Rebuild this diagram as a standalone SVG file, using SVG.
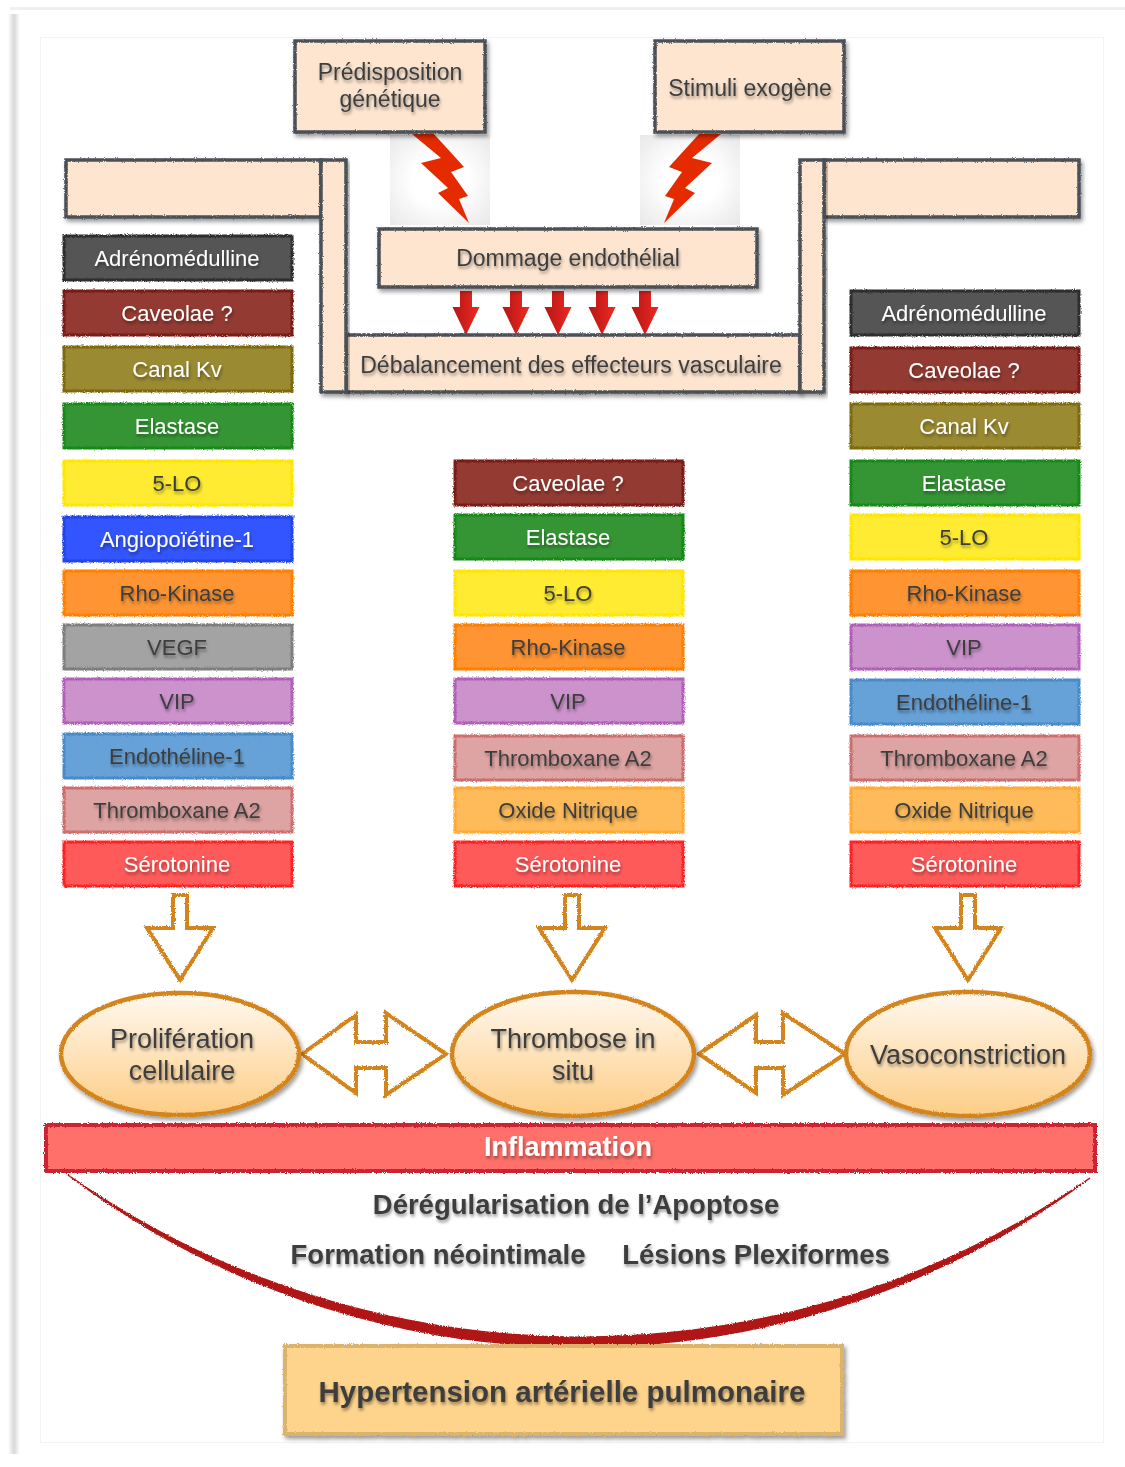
<svg xmlns="http://www.w3.org/2000/svg" width="1125" height="1467" viewBox="0 0 1125 1467">
<defs>
<style>
.t{font-family:"Liberation Sans",Arial,Helvetica,sans-serif;text-anchor:middle;filter:url(#tsh)}
.lbl{font-size:22px}
.w{fill:#ffffff}
.d{fill:#3e3e3e}
.big{font-size:23px;fill:#3e3e3e}
.ell{font-size:27px;fill:#3e3e3e}
.bold{font-weight:bold;font-size:27.5px;fill:#3e3e3e}
.peach{fill:#fee5d0;stroke:#4b4f57;stroke-width:3.5;filter:url(#rsh)}
.cbox{stroke-width:3;filter:url(#rough)}
.hollow{fill:#ffffff;stroke:#d4841a;stroke-width:4;stroke-linejoin:miter;filter:url(#rough)}
.ellipse{fill:url(#eg);stroke:#d4841a;stroke-width:4.5;filter:url(#rsh)}
.redar{fill:url(#rg)}
.bolt{fill:#e52a00}
</style>
<filter id="tsh" x="-10%" y="-30%" width="120%" height="170%">
<feDropShadow dx="1" dy="2.5" stdDeviation="1.6" flood-color="#000" flood-opacity="0.4"/>
</filter>
<filter id="rough" x="-5%" y="-20%" width="110%" height="140%">
<feTurbulence type="fractalNoise" baseFrequency="0.9" numOctaves="2" seed="3" result="n"/>
<feDisplacementMap in="SourceGraphic" in2="n" scale="3" xChannelSelector="R" yChannelSelector="G"/>
</filter>
<filter id="rsh" x="-10%" y="-20%" width="125%" height="150%">
<feTurbulence type="fractalNoise" baseFrequency="0.9" numOctaves="2" seed="5" result="n"/>
<feDisplacementMap in="SourceGraphic" in2="n" scale="2.5" xChannelSelector="R" yChannelSelector="G" result="r"/>
<feDropShadow in="r" dx="2" dy="3" stdDeviation="2.2" flood-color="#000" flood-opacity="0.4"/>
</filter>
<linearGradient id="eg" x1="0" y1="0" x2="0" y2="1">
<stop offset="0" stop-color="#fff8ef"/>
<stop offset="1" stop-color="#fdcd85"/>
</linearGradient>
<linearGradient id="rg" x1="0" y1="0" x2="1" y2="0">
<stop offset="0" stop-color="#b51515"/>
<stop offset="1" stop-color="#ee2a22"/>
</linearGradient>
<radialGradient id="glow" cx="0.5" cy="0.5" r="0.7">
<stop offset="0.4" stop-color="#ffffff"/>
<stop offset="1" stop-color="#e8e8e8"/>
</radialGradient>
<linearGradient id="lstrip" x1="0" y1="0" x2="1" y2="0">
<stop offset="0" stop-color="#ffffff"/>
<stop offset="0.5" stop-color="#d8d8d8"/>
<stop offset="1" stop-color="#ffffff"/>
</linearGradient>
</defs>

<rect x="0" y="0" width="1125" height="1467" fill="#ffffff"/>
<g id="page">
<rect x="8" y="14" width="12" height="1440" fill="url(#lstrip)"/>
<rect x="10" y="7" width="1115" height="3" fill="#f0f0f0"/>
<rect x="40.5" y="37.5" width="1063" height="1405" fill="none" stroke="#f3f3f3" stroke-width="1"/>
</g>

<g id="connectors">
<rect x="390" y="135" width="100" height="90" fill="url(#glow)"/>
<rect x="640" y="135" width="100" height="90" fill="url(#glow)"/>
<polygon class="bolt" points="412,134 434,134 464,167 451,172 468,196 459,199 469,223 438,193 448,188 421,163 441,158"/>
<polygon class="bolt" transform="translate(1133,0) scale(-1,1)" points="412,134 434,134 464,167 451,172 468,196 459,199 469,223 438,193 448,188 421,163 441,158"/>
<g class="redar">
<path d="M460,291 h12 v16 h7.5 l-13.5,28 l-13.5,-28 h7.5 z"/>
<path d="M510,291 h12 v16 h7.5 l-13.5,28 l-13.5,-28 h7.5 z"/>
<path d="M552,291 h12 v16 h7.5 l-13.5,28 l-13.5,-28 h7.5 z"/>
<path d="M596,291 h12 v16 h7.5 l-13.5,28 l-13.5,-28 h7.5 z"/>
<path d="M639,291 h12 v16 h7.5 l-13.5,28 l-13.5,-28 h7.5 z"/>
</g>
<path class="hollow" d="M173,895 L187,895 L187,928 L213,928 L180,980 L147,928 L173,928 Z"/>
<path class="hollow" d="M565,895 L579,895 L579,928 L605,928 L572,980 L539,928 L565,928 Z"/>
<path class="hollow" d="M961,895 L975,895 L975,928 L1001,928 L968,980 L935,928 L961,928 Z"/>
<path class="hollow" d="M302,1054 L356,1015 L356,1042 L386,1042 L386,1013 L446,1054 L386,1095 L386,1068 L356,1068 L356,1093 Z"/>
<path class="hollow" d="M699,1054 L756,1015 L756,1042 L783,1042 L783,1013 L845,1054 L783,1095 L783,1068 L756,1068 L756,1093 Z"/>
<path d="M68,1175 A852,852 0 0 0 1090,1178 A893,893 0 0 1 68,1175 Z" fill="#b01818" stroke="#b01818" stroke-width="1.5" filter="url(#rough)"/>
</g>

<g id="pred">
<rect class="peach" x="295" y="41" width="190" height="91"/>
<text class="t big" x="390" y="80">Prédisposition</text>
<text class="t big" x="390" y="107">génétique</text>
</g>
<g id="stim">
<rect class="peach" x="655" y="41" width="189" height="91"/>
<text class="t big" x="750" y="96">Stimuli exogène</text>
</g>
<g id="frame">
<rect class="peach" x="66" y="160" width="255" height="57"/>
<rect class="peach" x="824" y="160" width="255" height="57"/>
<rect class="peach" x="346" y="335" width="454" height="57"/>
<rect class="peach" x="321" y="160" width="25" height="232"/>
<rect class="peach" x="800" y="160" width="24" height="232"/>
<text class="t big" x="571" y="373">Débalancement des effecteurs vasculaire</text>
</g>
<g id="dommage">
<rect class="peach" x="379" y="229" width="378" height="58"/>
<text class="t big" x="568" y="266">Dommage endothélial</text>
</g>

<g id="left-column">
<g id="l1"><rect class="cbox" x="64" y="236" width="228" height="44" fill="#555555" stroke="#2e2e2e"/><text class="t lbl w" x="177" y="266">Adrénomédulline</text></g>
<g id="l2"><rect class="cbox" x="64" y="291" width="228" height="44" fill="#933a33" stroke="#7a1a12"/><text class="t lbl w" x="177" y="321">Caveolae ?</text></g>
<g id="l3"><rect class="cbox" x="64" y="347" width="228" height="44" fill="#9a8a33" stroke="#7c6a10"/><text class="t lbl w" x="177" y="377">Canal Kv</text></g>
<g id="l4"><rect class="cbox" x="64" y="404" width="228" height="44" fill="#359535" stroke="#188a18"/><text class="t lbl w" x="177" y="434">Elastase</text></g>
<g id="l5"><rect class="cbox" x="64" y="461" width="228" height="44" fill="#ffec33" stroke="#ffe600"/><text class="t lbl d" x="177" y="491">5-LO</text></g>
<g id="l6"><rect class="cbox" x="64" y="517" width="228" height="44" fill="#3355ff" stroke="#2244e8"/><text class="t lbl w" x="177" y="547">Angiopoïétine-1</text></g>
<g id="l7"><rect class="cbox" x="64" y="571" width="228" height="44" fill="#ff9433" stroke="#ff7f00"/><text class="t lbl d" x="177" y="601">Rho-Kinase</text></g>
<g id="l8"><rect class="cbox" x="64" y="625" width="228" height="44" fill="#a3a3a3" stroke="#7e7e7e"/><text class="t lbl d" x="177" y="655">VEGF</text></g>
<g id="l9"><rect class="cbox" x="64" y="679" width="228" height="44" fill="#cc92cc" stroke="#b060b8"/><text class="t lbl d" x="177" y="709">VIP</text></g>
<g id="l10"><rect class="cbox" x="64" y="734" width="228" height="44" fill="#66a2d8" stroke="#4a8ac8"/><text class="t lbl d" x="177" y="764">Endothéline-1</text></g>
<g id="l11"><rect class="cbox" x="64" y="788" width="228" height="44" fill="#dea3a3" stroke="#cc6e6e"/><text class="t lbl d" x="177" y="818">Thromboxane A2</text></g>
<g id="l12"><rect class="cbox" x="64" y="842" width="228" height="44" fill="#ff5a5a" stroke="#ff2020"/><text class="t lbl w" x="177" y="872">Sérotonine</text></g>
</g>

<g id="middle-column">
<g id="m1"><rect class="cbox" x="455" y="461" width="228" height="44" fill="#933a33" stroke="#7a1a12"/><text class="t lbl w" x="568" y="491">Caveolae ?</text></g>
<g id="m2"><rect class="cbox" x="455" y="515" width="228" height="44" fill="#359535" stroke="#188a18"/><text class="t lbl w" x="568" y="545">Elastase</text></g>
<g id="m3"><rect class="cbox" x="455" y="571" width="228" height="44" fill="#ffec33" stroke="#ffe600"/><text class="t lbl d" x="568" y="601">5-LO</text></g>
<g id="m4"><rect class="cbox" x="455" y="625" width="228" height="44" fill="#ff9433" stroke="#ff7f00"/><text class="t lbl d" x="568" y="655">Rho-Kinase</text></g>
<g id="m5"><rect class="cbox" x="455" y="679" width="228" height="44" fill="#cc92cc" stroke="#b060b8"/><text class="t lbl d" x="568" y="709">VIP</text></g>
<g id="m6"><rect class="cbox" x="455" y="736" width="228" height="44" fill="#dea3a3" stroke="#cc6e6e"/><text class="t lbl d" x="568" y="766">Thromboxane A2</text></g>
<g id="m7"><rect class="cbox" x="455" y="788" width="228" height="44" fill="#ffbb5a" stroke="#ffa830"/><text class="t lbl d" x="568" y="818">Oxide Nitrique</text></g>
<g id="m8"><rect class="cbox" x="455" y="842" width="228" height="44" fill="#ff5a5a" stroke="#ff2020"/><text class="t lbl w" x="568" y="872">Sérotonine</text></g>
</g>

<g id="right-column">
<g id="r1"><rect class="cbox" x="851" y="291" width="228" height="44" fill="#555555" stroke="#2e2e2e"/><text class="t lbl w" x="964" y="321">Adrénomédulline</text></g>
<g id="r2"><rect class="cbox" x="851" y="348" width="228" height="44" fill="#933a33" stroke="#7a1a12"/><text class="t lbl w" x="964" y="378">Caveolae ?</text></g>
<g id="r3"><rect class="cbox" x="851" y="404" width="228" height="44" fill="#9a8a33" stroke="#7c6a10"/><text class="t lbl w" x="964" y="434">Canal Kv</text></g>
<g id="r4"><rect class="cbox" x="851" y="461" width="228" height="44" fill="#359535" stroke="#188a18"/><text class="t lbl w" x="964" y="491">Elastase</text></g>
<g id="r5"><rect class="cbox" x="851" y="515" width="228" height="44" fill="#ffec33" stroke="#ffe600"/><text class="t lbl d" x="964" y="545">5-LO</text></g>
<g id="r6"><rect class="cbox" x="851" y="571" width="228" height="44" fill="#ff9433" stroke="#ff7f00"/><text class="t lbl d" x="964" y="601">Rho-Kinase</text></g>
<g id="r7"><rect class="cbox" x="851" y="625" width="228" height="44" fill="#cc92cc" stroke="#b060b8"/><text class="t lbl d" x="964" y="655">VIP</text></g>
<g id="r8"><rect class="cbox" x="851" y="680" width="228" height="44" fill="#66a2d8" stroke="#4a8ac8"/><text class="t lbl d" x="964" y="710">Endothéline-1</text></g>
<g id="r9"><rect class="cbox" x="851" y="736" width="228" height="44" fill="#dea3a3" stroke="#cc6e6e"/><text class="t lbl d" x="964" y="766">Thromboxane A2</text></g>
<g id="r10"><rect class="cbox" x="851" y="788" width="228" height="44" fill="#ffbb5a" stroke="#ffa830"/><text class="t lbl d" x="964" y="818">Oxide Nitrique</text></g>
<g id="r11"><rect class="cbox" x="851" y="842" width="228" height="44" fill="#ff5a5a" stroke="#ff2020"/><text class="t lbl w" x="964" y="872">Sérotonine</text></g>
</g>

<g id="proliferation">
<ellipse class="ellipse" cx="180" cy="1054" rx="119" ry="61"/>
<text class="t ell" x="182" y="1048">Prolifération</text>
<text class="t ell" x="182" y="1080">cellulaire</text>
</g>
<g id="thrombose">
<ellipse class="ellipse" cx="573" cy="1054" rx="121" ry="62"/>
<text class="t ell" x="573" y="1048">Thrombose in</text>
<text class="t ell" x="573" y="1080">situ</text>
</g>
<g id="vasoconstriction">
<ellipse class="ellipse" cx="968" cy="1054" rx="122" ry="62"/>
<text class="t ell" x="968" y="1064">Vasoconstriction</text>
</g>

<g id="inflammation">
<rect x="46" y="1125" width="1049" height="46" fill="#ff706a" stroke="#cc2030" stroke-width="4" filter="url(#rough)"/>
<text class="t" x="568" y="1156" style="font-weight:bold;font-size:27px;fill:#ffffff">Inflammation</text>
</g>

<g id="effects">
<text class="t bold" x="576" y="1214">Dérégularisation de l’Apoptose</text>
<text class="t bold" x="438" y="1264">Formation néointimale</text>
<text class="t bold" x="756" y="1264">Lésions Plexiformes</text>
</g>

<g id="hypertension">
<rect x="285" y="1346" width="557" height="88" fill="#fed38b" stroke="#dcb36a" stroke-width="4" filter="url(#rsh)"/>
<text class="t" x="562" y="1402" style="font-weight:bold;font-size:29.5px;fill:#3e3e3e">Hypertension artérielle pulmonaire</text>
</g>
</svg>
